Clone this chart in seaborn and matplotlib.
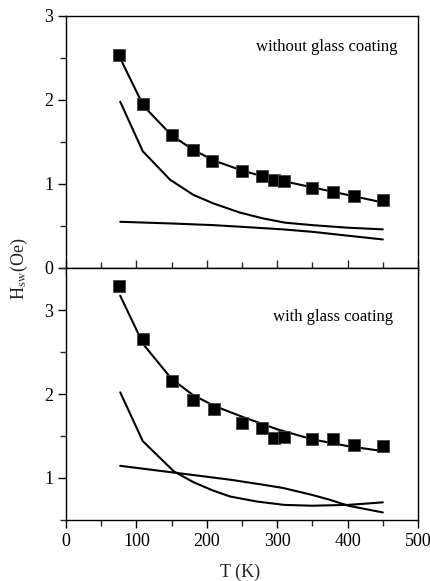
import numpy as np
import pandas as pd
import matplotlib
matplotlib.use("Agg")
import matplotlib.pyplot as plt
from matplotlib.ticker import MultipleLocator
import seaborn as sns

# ---- data: without glass coating (top panel) ----
top_sq_T = [75, 110, 150, 180, 208, 250, 279, 296, 310, 349, 379, 409, 450]
top_sq_H = [2.54, 1.95, 1.58, 1.40, 1.27, 1.16, 1.10, 1.05, 1.03, 0.95, 0.90, 0.86, 0.81]
top_fit_T = [78, 110, 150, 180, 210, 250, 280, 300, 350, 400, 450]
top_fit_H = [2.48, 1.93, 1.58, 1.41, 1.28, 1.16, 1.09, 1.05, 0.96, 0.87, 0.78]
top_a_T = [77, 109, 148, 181, 209, 247, 280, 311, 350, 400, 450]
top_a_H = [1.98, 1.39, 1.05, 0.87, 0.77, 0.66, 0.59, 0.54, 0.51, 0.48, 0.46]
top_b_T = [77, 150, 210, 250, 308, 351, 400, 450]
top_b_H = [0.55, 0.53, 0.51, 0.49, 0.46, 0.43, 0.385, 0.34]

# ---- data: with glass coating (bottom panel) ----
bot_sq_T = [75, 110, 150, 180, 210, 250, 279, 296, 310, 349, 379, 409, 450]
bot_sq_H = [3.29, 2.65, 2.16, 1.93, 1.82, 1.66, 1.60, 1.48, 1.49, 1.46, 1.46, 1.39, 1.38]
bot_fit_T = [77, 110, 150, 180, 210, 250, 300, 350, 400, 450]
bot_fit_H = [3.17, 2.59, 2.18, 1.99, 1.86, 1.73, 1.58, 1.46, 1.38, 1.32]
bot_a_T = [77, 109, 153, 181, 209, 233, 271, 310, 349, 401, 450]
bot_a_H = [2.02, 1.44, 1.08, 0.95, 0.85, 0.78, 0.72, 0.68, 0.67, 0.68, 0.71]
bot_b_T = [77, 233, 280, 309, 349, 375, 401, 450]
bot_b_H = [1.145, 0.98, 0.92, 0.88, 0.80, 0.74, 0.67, 0.59]

sns.set_theme(style="ticks")
plt.rcParams["font.family"] = ["Liberation Serif", "DejaVu Serif"]
plt.rcParams["mathtext.fontset"] = "stix"

fig = plt.figure(figsize=(4.30, 5.81), dpi=100)
L, R = 66 / 430, 418 / 430
ax1 = fig.add_axes([L, 1 - 268 / 581, R - L, 252 / 581])
ax2 = fig.add_axes([L, 1 - 520 / 581, R - L, 252 / 581])


def draw(ax, sqT, sqH, fT, fH, aT, aH, bT, bH):
    for T, H in [(fT, fH), (aT, aH), (bT, bH)]:
        df = pd.DataFrame({"T": T, "H": H})
        sns.lineplot(data=df, x="T", y="H", ax=ax, color="black", lw=1.5,
                     sort=False, estimator=None)
    dsq = pd.DataFrame({"T": sqT, "H": sqH})
    sns.scatterplot(data=dsq, x="T", y="H", ax=ax, marker="s", s=85,
                    color="black", edgecolor="#444444", linewidth=0.6, zorder=5)
    for sp in ax.spines.values():
        sp.set_linewidth(1.0)
        sp.set_color("black")
    ax.set_xlim(0, 500)
    ax.xaxis.set_major_locator(MultipleLocator(100))
    ax.xaxis.set_minor_locator(MultipleLocator(50))
    ax.yaxis.set_major_locator(MultipleLocator(1))
    ax.yaxis.set_minor_locator(MultipleLocator(0.5))
    ax.tick_params(axis="y", which="major", direction="out", length=6, width=1,
                   labelsize=13, pad=3, colors="black", right=False)
    ax.tick_params(axis="y", which="minor", direction="out", length=4, width=1,
                   right=False)
    ax.set_xlabel("")
    ax.set_ylabel("")


draw(ax1, top_sq_T, top_sq_H, top_fit_T, top_fit_H, top_a_T, top_a_H, top_b_T, top_b_H)
draw(ax2, bot_sq_T, bot_sq_H, bot_fit_T, bot_fit_H, bot_a_T, bot_a_H, bot_b_T, bot_b_H)

ax1.set_ylim(0, 3)
ax2.set_ylim(0.5, 3.5)
ax2.set_yticks([1, 2, 3])

ax1.tick_params(axis="x", which="major", direction="inout", length=11, width=1,
                labelbottom=False, top=False)
ax1.tick_params(axis="x", which="minor", direction="inout", length=8, width=1,
                top=False)
ax2.tick_params(axis="x", which="major", direction="out", length=6, width=1,
                labelsize=13, pad=3, top=False, colors="black")
ax2.tick_params(axis="x", which="minor", direction="out", length=4, width=1,
                top=False)

ax1.text(397 / 430, 1 - 47 / 581, "without glass coating", ha="right", va="center",
         fontsize=12, color="black", transform=fig.transFigure)
ax2.text(393 / 430, 1 - 317 / 581, "with glass coating", ha="right", va="center",
         fontsize=12, color="black", transform=fig.transFigure)

fig.text(240 / 430, 1 - 572 / 581, "T (K)", ha="center", va="center", fontsize=13)
fig.text(19 / 430, 1 - 269 / 581, r"H$_{\rm sw}$(Oe)", ha="center", va="center",
         rotation=90, fontsize=13)

fig.savefig("out.png", dpi=100)
